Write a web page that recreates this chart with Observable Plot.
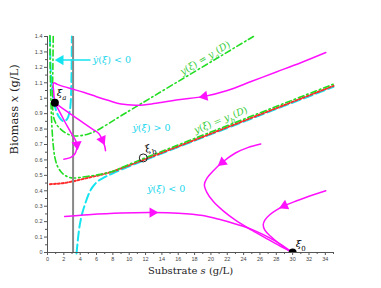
<!DOCTYPE html>
<html><head><meta charset="utf-8">
<script src="https://cdn.jsdelivr.net/npm/d3@7"></script>
<script src="https://cdn.jsdelivr.net/npm/@observablehq/plot@0.6"></script>
<style>body{margin:0;background:#fff} svg{display:block}</style>
</head><body><div id="chart"></div>
<script>
// ---- axes ----
const sTicks = [0,2,4,6,8,10,12,14,16,18,20,22,24,26,28,30,32,34];
const sMinor = [1,3,5,7,9,11,13,15,17,19,21,23,25,27,29,31,33,35];
const xTicks = [0,0.1,0.2,0.3,0.4,0.5,0.6,0.7,0.8,0.9,1,1.1,1.2,1.3,1.4];
const xMinor = [0.05,0.15,0.25,0.35,0.45,0.55,0.65,0.75,0.85,0.95,1.05,1.15,1.25,1.35];
const sDomain = [0, 35];
const xDomain = [0, 1.4];

// ---- nullclines [s, x] ----
const cyanU = [[0.3,1.4],[0.33,1.3],[0.4,1.18],[0.55,1.06],[0.8,0.97],[1.2,0.9],[1.6,0.865],[2.0,0.85],[2.4,0.865],[2.7,0.91],[2.85,0.98],[2.92,1.1],[2.96,1.25],[2.98,1.4]];
const cyanB = [[3.55,0],[3.7,0.08],[3.85,0.15],[4.0,0.2],[4.3,0.27],[4.6,0.32],[5.0,0.38],[5.5,0.43],[6.2,0.47],[7,0.495],[8,0.52],[10,0.565],[35,1.08]];
const redB = [[0.3,0.443],[1,0.445],[2,0.45],[3,0.46],[4,0.472],[5,0.485],[6,0.497],[7,0.51],[8,0.525],[9,0.545],[10,0.565],[35,1.08]];
const greenB = [[0.3,1.4],[0.33,1.2],[0.38,1.05],[0.45,0.92],[0.55,0.8],[0.7,0.69],[0.9,0.61],[1.2,0.555],[1.6,0.52],[2.1,0.495],[2.7,0.48],[3.2,0.476],[4,0.48],[5,0.488],[6.5,0.5],[8,0.52],[10,0.565],[35,1.085]];
const greenA = [[0.7,1.4],[0.66,1.2],[0.62,1.05],[0.64,0.93],[0.78,0.87],[1.1,0.83],[1.6,0.8],[2.3,0.772],[3.1,0.756],[4,0.757],[5,0.768],[6,0.79],[7.3,0.83],[9,0.886],[25.2,1.4]];
const grayS = [3.13];

// ---- trajectories (in flow order) ----
const T1 = [[34.06,1.296],[31,1.23],[28,1.17],[25,1.11],[22,1.05],[19.2,1.012],[16,0.99],[13,0.965],[11,0.955],[9,0.962],[7.5,0.985],[6,1.01],[4.5,1.037],[3,1.06],[2,1.075],[1.2,1.09],[0.75,1.10],[0.76,1.04],[0.9,0.97]];
const T2 = [[0.9,0.97],[2.5,0.91],[4,0.855],[5.5,0.8],[6.3,0.77],[6.7,0.73],[7.0,0.69],[7.1,0.66]];
const T3 = [[0.9,0.97],[1.6,0.9],[2.4,0.82],[3.0,0.765],[3.4,0.73],[3.6,0.7],[3.55,0.665],[3.3,0.635],[2.8,0.615],[2.0,0.605]];
const T4 = [[2.1,0.233],[5,0.245],[9,0.256],[12.85,0.259],[16,0.255],[19,0.24],[21,0.215],[23,0.185],[25,0.15],[27,0.1],[28.5,0.055],[30,0]];
const T5 = [[26.1,0.703],[24.5,0.68],[23,0.645],[21.4,0.585],[20.3,0.53],[19.5,0.48],[19.2,0.44],[19.5,0.39],[20.3,0.33],[21.5,0.27],[23,0.21],[25,0.145],[27,0.085],[28.7,0.035],[30,0]];
const T6 = [[34.06,0.40],[32,0.365],[30.5,0.335],[29,0.303],[28,0.275],[27.2,0.245],[26.6,0.21],[26.4,0.18],[26.6,0.145],[27.3,0.105],[28.3,0.06],[29.2,0.025],[30,0]];
const trajectories = [T1, T2, T3, T4, T5, T6];
// arrowhead locations: [trajectory index, s, x]
const heads = [[0,19.2,1.012],[1,6.7,0.73],[2,3.6,0.7],[3,12.85,0.259],[4,21.4,0.585],[5,29,0.303]];

// ---- equilibria ----
const xiA = [[0.9,0.97]];
const xiB = [[11.72,0.613]];
const xi0 = [[30,0]];

// ---- annotations ----
const cyanArrow = [[5.2,1.247],[1.9,1.247]];
const cyanArrowTip = [[1.6,1.247]];
const regionLabels = [
  {s:5.55, x:1.247, t:"*ẏ*(*ξ*) < 0"},
  {s:10.4, x:0.81, t:"*ẏ*(*ξ*) > 0"},
  {s:12.2, x:0.41, t:"*ẏ*(*ξ*) < 0"}
];
const lineLabelA = [{s:19.3, x:1.215, t:"*y*(*ξ*) = *y*_a(*D*)"}];
const lineLabelB = [{s:21.2, x:0.80, t:"*y*(*ξ*) = *y*_b(*D*)"}];

// ---- geometry ----
const W = 381, H = 288, mt = 36, mr = 48, mb = 36, ml = 47;
const kx = (W - ml - mr) / (sDomain[1] - sDomain[0]);
const ky = (H - mt - mb) / (xDomain[1] - xDomain[0]);

const MAG = "#ff10ff", CY = "#14e4f0", GR = "#22dd22", RD = "#ff2a2a";
const GRT = "#33cc33", CYT = "#19d6ec";
const serif = "'DejaVu Serif', serif";

const headData = heads.map(([ti, s, x]) => {
  const tr = trajectories[ti];
  let best = 0, bd = Infinity;
  tr.forEach((p, i) => {
    const d = ((p[0]-s)*kx)**2 + ((p[1]-x)*ky)**2;
    if (d < bd) { bd = d; best = i; }
  });
  const a = tr[Math.max(0, best-1)], b = tr[Math.min(tr.length-1, best+1)];
  const ang = Math.atan2(-(b[1]-a[1])*ky, (b[0]-a[0])*kx) * 180 / Math.PI;
  return {s, x, rot: ang + 90};
});
const tipAng = (() => {
  const a = cyanArrow[0], b = cyanArrowTip[0];
  return Math.atan2(-(b[1]-a[1])*ky, (b[0]-a[0])*kx) * 180 / Math.PI + 90;
})();

const P = d => d[0], Q = d => d[1];
const fmt = d => String(+d.toFixed(2));

const svg = Plot.plot({
  width: W, height: H, marginTop: mt, marginRight: mr, marginBottom: mb, marginLeft: ml,
  x: {domain: sDomain, axis: null},
  y: {domain: xDomain, axis: null},
  style: {background: "#fff", fontFamily: "'Liberation Sans', Arial, sans-serif"},
  marks: [
    Plot.line(cyanU, {x: P, y: Q, stroke: CY, strokeWidth: 2, strokeDasharray: "9,4", curve: "catmull-rom"}),
    Plot.line(cyanB, {x: P, y: Q, stroke: CY, strokeWidth: 2, strokeDasharray: "9,4", curve: "catmull-rom", dy: 1}),
    Plot.line(redB, {x: P, y: Q, stroke: RD, strokeWidth: 2, strokeDasharray: "2,2", curve: "catmull-rom"}),
    Plot.line(greenB, {x: P, y: Q, stroke: GR, strokeWidth: 1.6, strokeDasharray: "6,3,1.5,3", curve: "catmull-rom", dy: -1}),
    Plot.line(greenA, {x: P, y: Q, stroke: GR, strokeWidth: 1.6, strokeDasharray: "6,3,1.5,3", curve: "catmull-rom"}),
    Plot.ruleX(grayS, {stroke: "#888", strokeWidth: 2}),
    ...trajectories.map(tr => Plot.line(tr, {x: P, y: Q, stroke: MAG, strokeWidth: 1.5, curve: "catmull-rom"})),
    Plot.dot(headData, {x: "s", y: "x", symbol: "triangle", r: 3.8, fill: MAG, rotate: "rot"}),
    Plot.line(cyanArrow, {x: P, y: Q, stroke: CY, strokeWidth: 1.5}),
    Plot.dot(cyanArrowTip, {x: P, y: Q, symbol: "triangle", r: 3.8, fill: CY, rotate: () => tipAng}),
    // axes
    Plot.ruleX([0], {stroke: "#555", strokeWidth: 1}),
    Plot.ruleY([0], {stroke: "#555", strokeWidth: 1}),
    Plot.axisX(sTicks, {tickSize: 3, tickPadding: 2, fontSize: 5.5, stroke: "#555", fill: "#444", label: null, tickFormat: fmt}),
    Plot.axisX(sMinor, {tickSize: 2, stroke: "#555", label: null, tickFormat: () => ""}),
    Plot.axisY(xTicks, {tickSize: 3, tickPadding: 2, fontSize: 5.5, stroke: "#555", fill: "#444", label: null, tickFormat: fmt}),
    Plot.axisY(xMinor, {tickSize: 2, stroke: "#555", label: null, tickFormat: () => ""}),
    // equilibria
    Plot.dot(xiA, {x: P, y: Q, r: 4, fill: "#000"}),
    Plot.dot(xiB, {x: P, y: Q, r: 4, stroke: "#222", strokeWidth: 1, fill: "none"}),
    Plot.dot(xi0, {x: P, y: Q, r: 4, fill: "#000", clip: true}),
    Plot.text(xiA, {x: P, y: Q, text: () => "*ξ*_a", dx: 2, dy: -10, textAnchor: "start", fontSize: 10, fontFamily: serif, fill: "#000"}),
    Plot.text(xiB, {x: P, y: Q, text: () => "*ξ*_b", dx: 2, dy: -8, textAnchor: "start", fontSize: 10, fontFamily: serif, fill: "#000", rotate: -20}),
    Plot.text(xi0, {x: P, y: Q, text: () => "*ξ*_0", dx: 3, dy: -9, textAnchor: "start", fontSize: 10, fontFamily: serif, fill: "#000"}),
    // labels
    Plot.text(regionLabels, {x: "s", y: "x", text: "t", textAnchor: "start", fontSize: 9.5, fontFamily: serif, fill: CYT}),
    Plot.text(lineLabelA, {x: "s", y: "x", text: "t", fontSize: 9.5, fontFamily: serif, fill: GRT, rotate: -31, dy: -7}),
    Plot.text(lineLabelB, {x: "s", y: "x", text: "t", fontSize: 9.5, fontFamily: serif, fill: GRT, rotate: -22, dy: -9}),
    Plot.text(["Substrate *s* (g/L)"], {frameAnchor: "bottom", dy: 21, fontSize: 10, fontFamily: serif, fill: "#222"}),
    Plot.text(["Biomass *x* (g/L)"], {frameAnchor: "left", dx: -33, dy: 10, rotate: -90, fontSize: 11.5, fontFamily: serif, fill: "#222"})
  ]
});

function rich(root) {
  const NS = "http://www.w3.org/2000/svg";
  for (const t of root.querySelectorAll("text")) {
    const s = t.textContent;
    if (!/[_*]/.test(s)) continue;
    t.textContent = "";
    const re = /\*([^*]+)\*|_(.)|([^*_]+)/g;
    let m;
    while ((m = re.exec(s))) {
      const ts = document.createElementNS(NS, "tspan");
      if (m[1]) { ts.textContent = m[1]; ts.setAttribute("font-style", "italic"); }
      else if (m[2]) { ts.textContent = m[2]; ts.setAttribute("baseline-shift", "sub"); ts.setAttribute("font-size", "70%"); if (/[a-z]/.test(m[2])) ts.setAttribute("font-style", "italic"); }
      else ts.textContent = m[3];
      t.appendChild(ts);
    }
  }
}
rich(svg);
document.getElementById("chart").appendChild(svg);
</script>
</body></html>
